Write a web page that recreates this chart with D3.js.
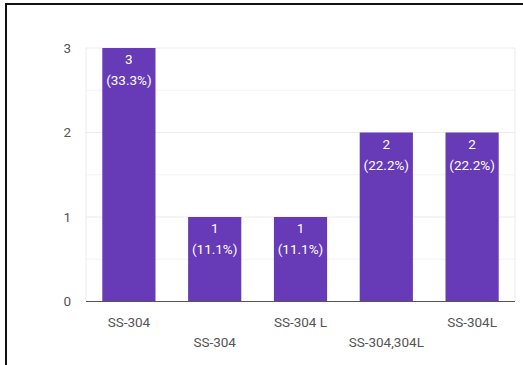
<!DOCTYPE html>
<html><head><meta charset="utf-8">
<script src="https://cdn.jsdelivr.net/npm/d3@7"></script>
<style>html,body{margin:0;padding:0;background:#fff;}svg{display:block;}</style>
</head><body>
<script>
const categories = ["SS-304", "SS-304 ", "SS-304 L", "SS-304,304L", "SS-304L"];
const values = [3, 1, 1, 2, 2];
const percents = ["33.3%", "11.1%", "11.1%", "22.2%", "22.2%"];
const yTicks = [0, 1, 2, 3];
const minorTicks = [0.5, 1.5, 2.5];

const W = 523, H = 365;
const FS = 13.5;
const svg = d3.select("body").append("svg").attr("width", W).attr("height", H);
svg.append("rect").attr("width", W).attr("height", H).attr("fill", "#fff");

const x = d3.scaleBand().domain(categories).range([86, 515]).paddingInner(0.38).paddingOuter(0.19);
const y = d3.scaleLinear().domain([0, 3]).range([301.5, 48]);

// border
svg.append("line").attr("x1", 6).attr("x2", 6).attr("y1", 4).attr("y2", H).attr("stroke", "#111").attr("stroke-width", 2);
svg.append("line").attr("x1", 5).attr("x2", W).attr("y1", 4).attr("y2", 4).attr("stroke", "#111").attr("stroke-width", 2);

// grid
svg.selectAll(".minor").data(minorTicks).enter().append("line")
  .attr("x1", 86).attr("x2", 515).attr("y1", d => y(d)).attr("y2", d => y(d))
  .attr("stroke", "#f3f3f3").attr("stroke-width", 1);
svg.selectAll(".major").data(yTicks.filter(d => d > 0)).enter().append("line")
  .attr("x1", 86).attr("x2", 515).attr("y1", d => y(d)).attr("y2", d => y(d))
  .attr("stroke", "#ebebeb").attr("stroke-width", 1);
svg.append("line").attr("x1", 515).attr("x2", 515).attr("y1", y(3)).attr("y2", y(0)).attr("stroke", "#ebebeb");
svg.append("line").attr("x1", 86).attr("x2", 86).attr("y1", y(3)).attr("y2", y(0)).attr("stroke", "#ebebeb");

// y labels
svg.selectAll(".ylab").data(yTicks).enter().append("text")
  .attr("x", 71).attr("y", d => y(d)).attr("dy", "0.35em").attr("text-anchor", "end")
  .attr("font-family", "Roboto, sans-serif").attr("font-size", FS).attr("fill", "#555")
  .text(d => d);

// bars
svg.selectAll(".bar").data(values).enter().append("rect")
  .attr("x", (d, i) => x(categories[i])).attr("width", x.bandwidth())
  .attr("y", d => y(d)).attr("height", d => y(0) - y(d))
  .attr("fill", "#673ab7");

// bar labels
const lab = svg.selectAll(".blab").data(values).enter().append("text")
  .attr("text-anchor", "middle").attr("font-family", "Roboto, sans-serif").attr("font-size", FS).attr("fill", "#fff");
lab.append("tspan").attr("x", (d, i) => x(categories[i]) + x.bandwidth() / 2).attr("y", d => y(d) + 16).text(d => d);
lab.append("tspan").attr("x", (d, i) => x(categories[i]) + x.bandwidth() / 2).attr("y", d => y(d) + 37).text((d, i) => "(" + percents[i] + ")");

// baseline
svg.append("line").attr("x1", 86).attr("x2", 515).attr("y1", y(0)).attr("y2", y(0)).attr("stroke", "#555").attr("stroke-width", 1.2);

// x labels staggered
svg.selectAll(".xlab").data(categories).enter().append("text")
  .attr("x", d => x(d) + x.bandwidth() / 2)
  .attr("y", (d, i) => i % 2 === 0 ? 326.5 : 346.5)
  .attr("text-anchor", "middle").attr("font-family", "Roboto, sans-serif").attr("font-size", FS).attr("fill", "#555")
  .text(d => d.trim());
</script>
</body></html>
